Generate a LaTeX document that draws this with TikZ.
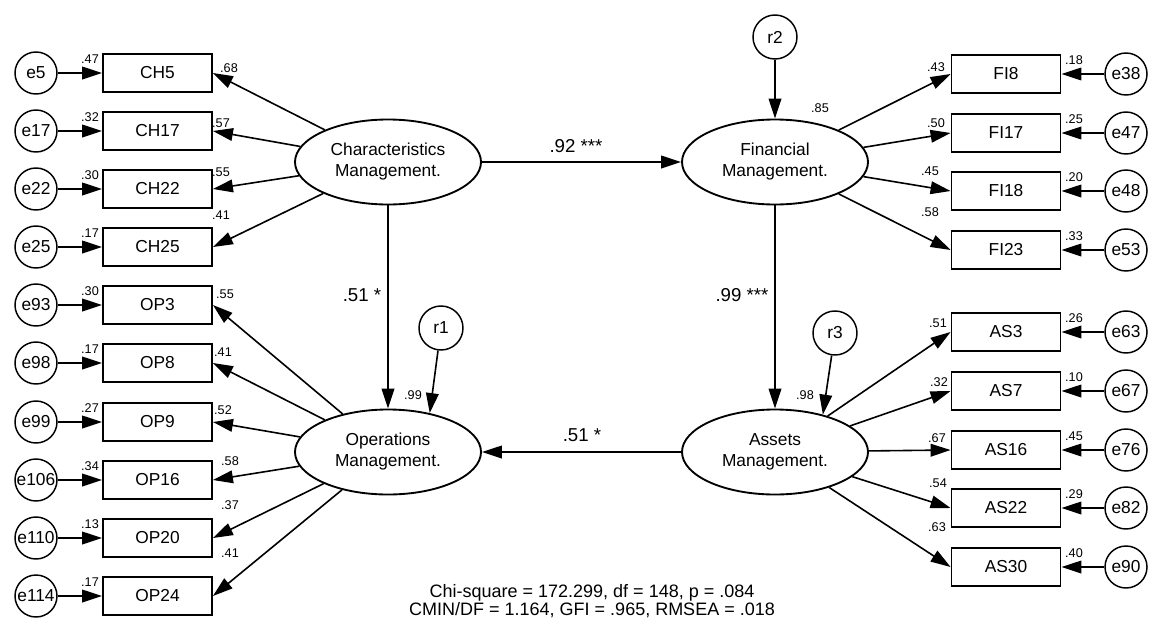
\documentclass[tikz,border=0pt]{standalone}
\usepackage{fontspec}
\setmainfont{Liberation Sans}
\usetikzlibrary{
  arrows.meta,
  positioning,
  calc,
  shapes.geometric
}
\tikzset{
  obs/.style={draw,line width=1.4pt,minimum width=81.75pt,minimum height=28.5pt,
    inner sep=0pt,font=\fontsize{13}{14}\selectfont},
  err/.style={draw,circle,line width=1.1pt,minimum size=31.5pt,inner sep=0pt,
    font=\fontsize{13}{14}\selectfont},
  lat/.style={draw,ellipse,line width=1.4pt,minimum width=139.5pt,minimum height=63.75pt,
    inner sep=0pt,align=center,font=\fontsize{13}{15.75}\selectfont},
  link/.style={line width=1.2pt,-{Triangle[length=15pt,width=9.5pt]}},
  est/.style={inner sep=0pt,font=\fontsize{9.5}{10}\selectfont},
  coef/.style={inner sep=0pt,font=\fontsize{14}{16}\selectfont}
}

\begin{document}
\begin{tikzpicture}[x=0.75pt,y=-0.75pt]
  \useasboundingbox (0,0) rectangle (1156,636);

  % latent variables
  \node[lat] (cm) at (388,162) {Characteristics\\Management.};
  \node[lat] (fm) at (775,162) {Financial\\Management.};
  \node[lat] (om) at (388,452) {Operations\\Management.};
  \node[lat] (am) at (775,452) {Assets\\Management.};
  \node[err,minimum size=33pt] (r2) at (775,37) {r2};
  \node[err,minimum size=33pt] (r1) at (441,328) {r1};
  \node[err,minimum size=33pt] (r3) at (835,333) {r3};

  % structural paths
  \draw[link] (cm) -- (fm);
  \node[coef] at (576,146) {.92 ***};
  \draw[link] (cm) -- (om);
  \node[coef] at (362,295) {.51 *};
  \draw[link] (fm) -- (am);
  \node[coef] at (742,295) {.99 ***};
  \draw[link] (am) -- (om);
  \node[coef] at (582,435) {.51 *};
  \draw[link] (r2) -- (fm);
  \node[est] at (820,108) {.85};
  \draw[link] (r1) -- (om.43);
  \node[est] at (413,395) {.99};
  \draw[link] (r3) -- (am.38);
  \node[est] at (805,395) {.98};

  % left indicators
  \foreach \n/\e/\y/\r/\l/\lx/\ly in {CH5/e5/73/.47/.68/229/68, CH17/e17/131/.32/.57/221/123,
      CH22/e22/189/.30/.55/221/172, CH25/e25/247/.17/.41/221/215}{
    \node[obs] (\n) at (157.5,\y) {\n};
    \node[err] (\e) at (36,\y) {\e};
    \draw[link] (\e) -- (\n);
    \node[est] at (90,\y-14) {\r};
    \draw[link] (cm) -- (\n.east);
    \node[est] at (\lx,\ly) {\l};
  }
  \foreach \n/\e/\y/\r/\l/\lx/\ly in {OP3/e93/305/.30/.55/225/294, OP8/e98/363/.17/.41/223/352,
      OP9/e99/422/.27/.52/223/410, OP16/e106/480/.34/.58/230/461,
      OP20/e110/538/.13/.37/230/505, OP24/e114/596/.17/.41/230/553}{
    \node[obs] (\n) at (157.5,\y) {\n};
    \node[err] (\e) at (36,\y) {\e};
    \draw[link] (\e) -- (\n);
    \node[est] at (90,\y-14) {\r};
    \draw[link] (om) -- (\n.east);
    \node[est] at (\lx,\ly) {\l};
  }

  % right indicators
  \foreach \n/\e/\y/\r/\l/\lx/\ly in {FI8/e38/74/.18/.43/936/67, FI17/e47/133/.25/.50/936/123,
      FI18/e48/191/.20/.45/930/171, FI23/e53/250/.33/.58/930/212}{
    \node[obs] (\n) at (1006,\y) {\n};
    \node[err] (\e) at (1126,\y) {\e};
    \draw[link] (\e) -- (\n);
    \node[est] at (1074,\y-14) {\r};
    \draw[link] (fm) -- (\n.west);
    \node[est] at (\lx,\ly) {\l};
  }
  \foreach \n/\e/\y/\r/\l/\lx/\ly in {AS3/e63/332/.26/.51/938/323, AS7/e67/391/.10/.32/939/382,
      AS16/e76/450/.45/.67/937/438, AS22/e82/508/.29/.54/938/483,
      AS30/e90/567/.40/.63/937/527}{
    \node[obs] (\n) at (1006,\y) {\n};
    \node[err] (\e) at (1126,\y) {\e};
    \draw[link] (\e) -- (\n);
    \node[est] at (1074,\y-14) {\r};
    \draw[link] (am) -- (\n.west);
    \node[est] at (\lx,\ly) {\l};
  }

  \node[align=center,inner sep=0pt,font=\fontsize{13.5}{14}\selectfont] (fit) at (592,601) {
    Chi-square = 172.299, df = 148, p = .084\\
    CMIN/DF = 1.164, GFI = .965, RMSEA = .018
  };
\end{tikzpicture}
\end{document}
